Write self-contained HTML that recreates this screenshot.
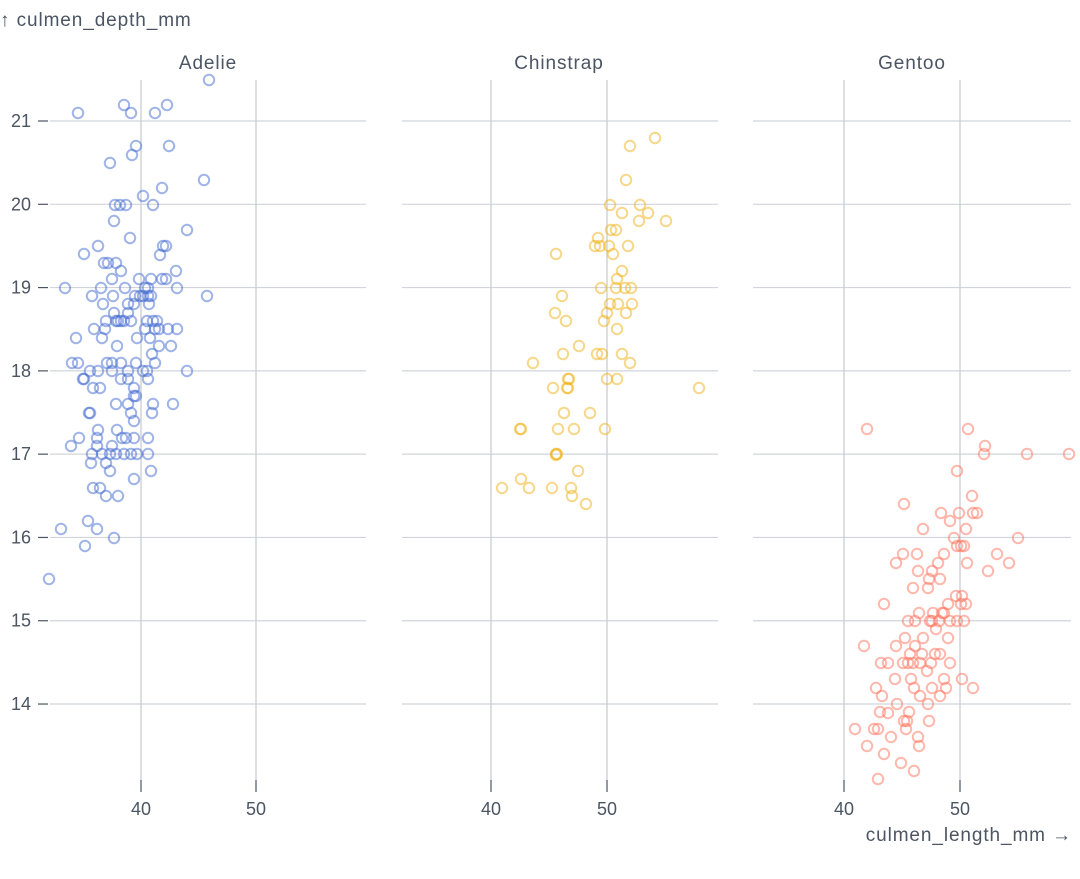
<!DOCTYPE html>
<html><head><meta charset="utf-8"><style>
body{margin:0;background:#fff;}
svg{font-family:"Liberation Sans",sans-serif;}
</style></head><body>
<svg id="s" width="1080" height="874" viewBox="0 0 1080 874" xmlns="http://www.w3.org/2000/svg">
<g fill="#4b5563" font-size="19" letter-spacing="0.9">
<text x="0" y="26">↑ culmen_depth_mm</text>
<text x="1072" y="841" text-anchor="end">culmen_length_mm →</text>
<text x="208" y="69" text-anchor="middle">Adelie</text>
<text x="559" y="69" text-anchor="middle">Chinstrap</text>
<text x="912" y="69" text-anchor="middle">Gentoo</text>
</g>
<g id="grid"></g>
<g id="pts" fill="none" stroke-width="2"></g>
</svg>
<script>
var ns="http://www.w3.org/2000/svg",s=document.getElementById("s"),g=document.getElementById("grid"),p=document.getElementById("pts");
function el(t,a,par){var e=document.createElementNS(ns,t);for(var k in a)e.setAttribute(k,a[k]);if(t=="text"&&a.t){e.textContent=a.t;e.removeAttribute("t");}(par||g).appendChild(e);return e;}
var panels=[[50,366,141,256],[402,718,491,607],[753,1071,844,960]];
for(var v=14;v<=21;v++){var y=121+(21-v)*83.29;
 panels.forEach(function(q){el("line",{x1:q[0],x2:q[1],y1:y,y2:y,stroke:"#d1d5db","stroke-width":1.2});});
 el("line",{x1:38,x2:48,y1:y,y2:y,stroke:"#4b5563","stroke-width":1.2});
 el("text",{x:31,y:y+6,"text-anchor":"end",fill:"#4b5563","font-size":18,t:String(v)});}
panels.forEach(function(q){[q[2],q[3]].forEach(function(x,i){
 el("line",{x1:x,x2:x,y1:80,y2:780,stroke:"#c9cdd3","stroke-width":1.3});
 el("line",{x1:x,x2:x,y1:780,y2:792,stroke:"#4b5563","stroke-width":1.2});
 el("text",{x:x,y:815,"text-anchor":"middle",fill:"#4b5563","font-size":18,t:i?"50":"40"});});});
var A=[[209,80],[78,113],[124,105],[167,105],[131,113],[155,113],[110,163],[136,146],[132,155],[169,146],[204,180],[143,196],[115,205],[120,205],[126,205],[153,205],[162,188],[114,221],[130,238],[187,230],[163,246],[166,246],[84,254],[98,246],[108,263],[104,263],[116,263],[160,255],[176,271],[65,288],[92,296],[101,288],[112,279],[121,271],[125,288],[139,279],[151,279],[162,279],[166,279],[177,288],[207,296],[113,296],[135,296],[140,296],[148,296],[151,296],[143,296],[148,288],[145,288],[103,304],[114,313],[128,304],[128,313],[134,304],[149,304],[116,321],[118,321],[121,321],[105,329],[106,321],[124,321],[131,321],[147,321],[153,321],[155,329],[159,329],[157,321],[168,329],[177,329],[145,329],[94,329],[102,338],[137,338],[150,338],[117,346],[159,346],[171,346],[76,338],[152,354],[72,363],[78,363],[107,363],[112,363],[121,363],[136,363],[155,363],[90,371],[98,371],[112,371],[128,371],[143,371],[147,371],[187,371],[84,379],[83,379],[93,388],[100,388],[121,379],[128,379],[148,379],[134,388],[134,396],[116,404],[128,404],[136,396],[153,404],[173,404],[152,413],[89,413],[90,413],[131,413],[134,421],[98,430],[117,430],[79,438],[97,438],[122,438],[126,438],[134,438],[148,438],[71,446],[97,446],[112,446],[92,454],[102,454],[110,454],[116,454],[124,454],[131,454],[137,454],[148,454],[91,463],[106,463],[110,471],[151,471],[93,488],[100,488],[106,496],[118,496],[134,479],[61,529],[88,521],[97,529],[114,538],[85,546],[49,579]];
var C=[[655,138],[630,146],[626,180],[610,205],[640,205],[648,213],[622,213],[666,221],[639,221],[611,230],[616,230],[598,238],[595,246],[600,246],[609,246],[628,246],[613,254],[556,254],[622,271],[617,279],[601,288],[616,288],[625,288],[631,288],[562,296],[610,304],[618,304],[632,304],[555,313],[607,313],[626,313],[566,321],[604,321],[617,329],[563,354],[597,354],[602,354],[622,354],[533,363],[630,363],[579,346],[568,379],[569,379],[607,379],[617,379],[699,388],[553,388],[568,388],[564,413],[590,413],[520,429],[521,429],[558,429],[574,429],[605,429],[556,454],[557,454],[578,471],[521,479],[502,488],[529,488],[552,488],[571,488],[572,496],[586,504],[567,388],[556,455]];
var G=[[867,429],[968,429],[985,446],[984,454],[1027,454],[1069,454],[957,471],[972,496],[904,504],[941,513],[959,513],[973,513],[977,513],[950,521],[966,529],[923,529],[954,538],[957,546],[961,546],[964,546],[1018,538],[903,554],[917,554],[944,554],[997,554],[896,563],[938,563],[967,563],[1009,563],[988,571],[918,571],[932,571],[929,579],[940,579],[962,596],[956,596],[961,604],[948,604],[928,588],[913,588],[884,604],[966,604],[919,613],[933,613],[942,613],[944,613],[908,621],[915,621],[930,621],[932,621],[939,621],[950,621],[957,621],[964,621],[905,638],[923,638],[948,638],[936,629],[896,646],[864,646],[915,646],[910,654],[922,654],[935,654],[940,654],[903,663],[908,663],[913,663],[920,663],[931,663],[950,663],[888,663],[881,663],[927,671],[911,679],[944,679],[962,679],[895,679],[876,688],[914,688],[932,688],[946,688],[973,688],[920,696],[940,696],[882,696],[897,704],[928,704],[880,712],[909,712],[888,713],[904,721],[907,721],[906,729],[929,721],[874,729],[878,729],[855,729],[918,737],[867,746],[891,737],[884,754],[919,746],[901,763],[914,771],[878,779]];
[[A,"#4269d0"],[C,"#efb118"],[G,"#ff725c"]].forEach(function(d){d[0].forEach(function(c){el("circle",{cx:c[0],cy:c[1],r:5.2,stroke:d[1],"stroke-opacity":0.5},p);});});
</script>
</body></html>
